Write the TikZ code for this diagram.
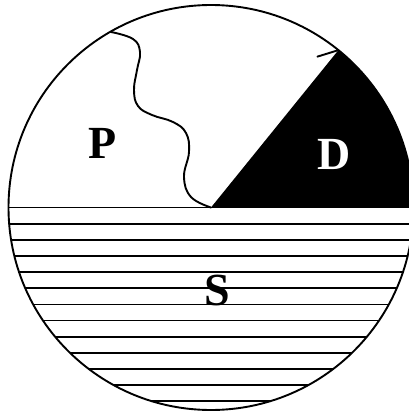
\documentclass[tikz,border=0pt]{standalone}
\usepackage{fontspec}
\setmainfont{Liberation Serif}
\usetikzlibrary{arrows.meta,calc}
\begin{document}
\begin{tikzpicture}[x=1pt,y=-1pt,line width=1.9pt,
  lbl/.style={font=\fontsize{46}{46}\selectfont\bfseries, inner sep=0pt},
  hatch/.style={line width=1.8pt}]
\useasboundingbox (0,0) rectangle (409,412);
\clip (0,0) rectangle (409,412);
\def\R{202.5}
\coordinate (O) at (211,207.5);
\coordinate (tip) at ($(O)+(-51:\R)$);
% black sector D
\fill (O) -- ++(0:\R) arc[start angle=0, end angle=-51, radius=\R] -- cycle;
% hatching S
\begin{scope}
  \clip (O) circle[radius=\R];
  \foreach \i in {0,...,12}
    \draw[hatch] (0,{207.5+16.15*\i}) -- (409,{207.5+16.15*\i});
\end{scope}
% wavy boundary
\draw[line cap=round] plot[smooth, tension=0.7] coordinates {(111,32) (133,39) (140,52) (137,70) (134,90) (138,106) (152,115) (173,122) (186,133) (189,152) (184,177) (191,197) (211,207.5)};
% arrow barb
\coordinate (barb) at ($(tip)+(-21,6.5)$);
\draw[line cap=round] (tip) -- (barb);
% outline
\draw (O) circle[radius=\R];
% labels
\node[lbl] (P) at (103,143) {P};
\node[lbl,text=white] (D) at (334,154) {D};
\node[lbl] (S) at (217,290) {S};
\end{tikzpicture}
\end{document}
